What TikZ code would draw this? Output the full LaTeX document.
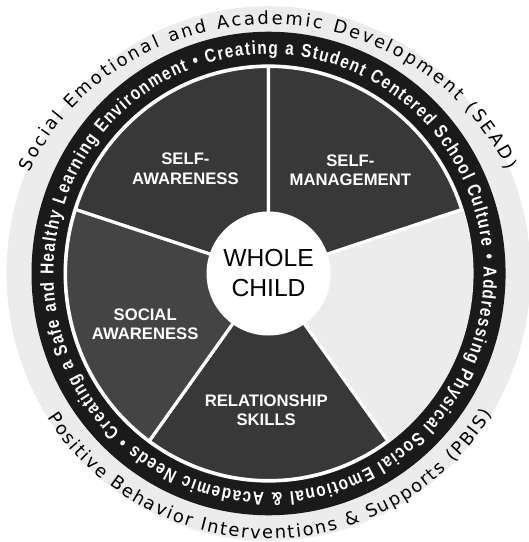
\documentclass[tikz,border=0pt]{standalone}
\usepackage{fontspec}
\setmainfont{Liberation Sans}
\newfontfamily\ringfont{DejaVu Sans}
\newfontfamily\bandfont{Liberation Sans}[FakeStretch=0.82]
\usepackage{tikz}
\usetikzlibrary{decorations.text}
\definecolor{bandgray}{HTML}{1A1A1A}
\definecolor{wedgegray}{HTML}{383838}
\definecolor{socialgray}{HTML}{444444}
\definecolor{palegray}{HTML}{ECECEC}

\begin{document}
\begin{tikzpicture}[x=0.75pt, y=0.765pt,
    wedge/.style={fill=wedgegray, draw=white, line width=2.4pt},
    wedgelabel/.style={font=\bfseries\fontsize{12.5}{14.5}\selectfont, text=white, align=center},
]
    \useasboundingbox (-268.5,-263.2) rectangle (259.5,268.1);

    % Halo and band
    \fill[palegray] (0,0) circle (262);
    \fill[bandgray] (0,0) circle (237);
    \fill[palegray] (0,0) circle (205);

    % Wedges
    \foreach \a/\b/\c in {90/162/wedgegray, 18/90/wedgegray, 234/306/wedgegray, 162/234/socialgray}
        \draw[wedge, fill=\c] (0,0) -- (\a:203) arc[start angle=\a, end angle=\b, radius=203] -- cycle;

    \node[wedgelabel] (selfaware) at (129:132) {SELF-\\AWARENESS};
    \node[wedgelabel] (selfmanage) at (51:130) {SELF-\\MANAGEMENT};
    \node[wedgelabel] (socialaware) at (202:133) {SOCIAL\\AWARENESS};
    \node[wedgelabel] (relation) at (269:134) {RELATIONSHIP\\SKILLS};

    % Center
    \node[circle, fill=white, minimum size=93pt, inner sep=0pt, align=center,
          font=\fontsize{18.5}{22.5}\selectfont] (whole) at (0,0) {WHOLE\\CHILD};

    % Band text
    \path[decorate, decoration={text along path, text align={fit to path}, text color=white,
        text={|\bandfont\bfseries\fontsize{14}{15}\selectfont|• Creating a Student Centered School Culture • Addressing Physical Social Emotional {\&} Academic Needs • Creating a Safe and Healthy Learning Environment}}]
        (110:215) arc[start angle=110, end angle=-248, radius=215];

    % Outer texts
    \path[decorate, decoration={text along path, text align={fit to path},
        text={|\ringfont\fontsize{13.4}{15}\selectfont|Social Emotional and Academic Development (SEAD)}}]
        (156:262 and 244) arc[start angle=156, end angle=24.5, x radius=262, y radius=244];
    \path[decorate, decoration={text along path, text align={fit to path},
        text={|\ringfont\fontsize{13.4}{15}\selectfont|Positive Behavior Interventions {\&} Supports (PBIS)}}]
        (213:264 and 260) arc[start angle=213, end angle=328, x radius=264, y radius=260];

\end{tikzpicture}
\end{document}
